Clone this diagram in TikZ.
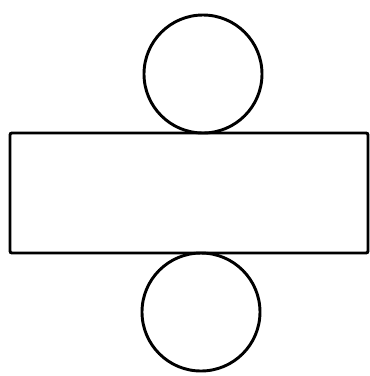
\documentclass[tikz,border=0pt]{standalone}
\usetikzlibrary{positioning}

\begin{document}
\begin{tikzpicture}[
    node distance=0pt,
    outline/.style={draw=black, line width=2.2pt, outer sep=0pt, inner sep=0pt},
    board/.style={outline, rectangle, rounded corners=1.5pt,
      minimum width=268.5pt, minimum height=90pt},
    disc/.style={outline, circle, minimum size=88.5pt}
  ]
    \useasboundingbox (0,0) rectangle (277.5pt,-282pt);
    \node[board] (net) at (141.75pt,-144.75pt) {};
    \node[disc, above=of net, xshift=10.5pt] (lid) {};
    \node[disc, below=of net, xshift=9pt] (base) {};
  \end{tikzpicture}
\end{document}
